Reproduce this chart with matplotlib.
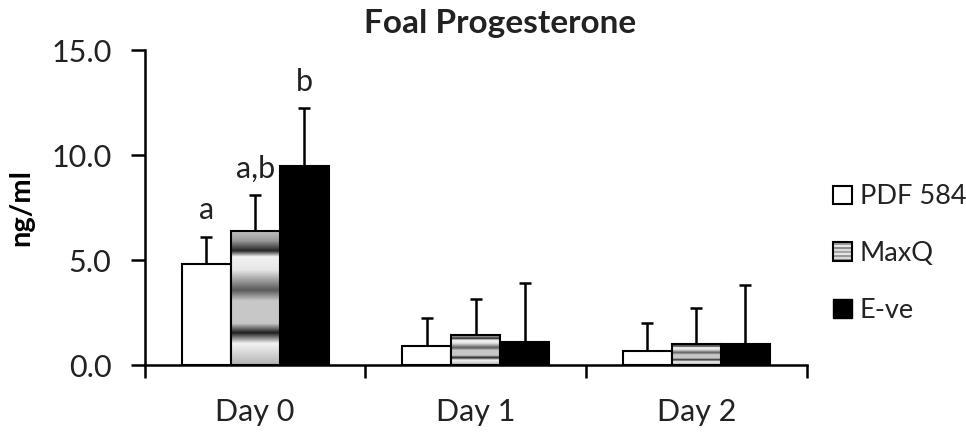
import matplotlib
matplotlib.use("Agg")
import matplotlib.pyplot as plt
import numpy as np
from matplotlib.patches import Rectangle, Patch
from matplotlib.legend_handler import HandlerBase

plt.rcParams['font.family'] = ['Lato', 'DejaVu Sans']

# data
days = ["Day 0", "Day 1", "Day 2"]
groups = ["PDF 584", "MaxQ", "E-ve"]
pdf584 = [4.81, 0.92, 0.69]
pdf584_err = [1.29, 1.32, 1.32]
maxq = [6.38, 1.43, 1.02]
maxq_err = [1.72, 1.71, 1.72]
eve = [9.48, 1.11, 0.98]
eve_err = [2.76, 2.78, 2.81]
letters_day0 = ["a", "a,b", "b"]

# gray profile of the MaxQ gradient fill (top -> bottom)
grad_pos = [0.0, 0.07, 0.145, 0.19, 0.29, 0.44, 0.52, 0.69, 0.76, 0.84, 1.0]
grad_val = [0.75, 0.6, 0.15, 0.95, 0.9, 0.35, 0.78, 0.78, 0.12, 0.95, 0.7]


class StripeHandler(HandlerBase):
    def create_artists(self, legend, orig_handle, xdescent, ydescent,
                       width, height, fontsize, trans):
        arts = []
        shades = [0.55, 0.85, 0.6, 0.9, 0.65, 0.85, 0.55, 0.9, 0.6]
        n = len(shades)
        for i in range(n):
            r = Rectangle((-xdescent, -ydescent + height * i / n), width, height / n,
                          facecolor=str(shades[i]), edgecolor='none', transform=trans)
            arts.append(r)
        arts.append(Rectangle((-xdescent, -ydescent), width, height, facecolor='none',
                              edgecolor='black', linewidth=1.5, transform=trans))
        return arts


fig = plt.figure(figsize=(9.66, 4.32), dpi=100)
ax = fig.add_axes([0.150, 0.155, 0.685, 0.729])

x = np.arange(len(days)) + 0.5
w = 0.222

ax.bar(x - w, pdf584, w, color='white', edgecolor='black', linewidth=1.5, zorder=2)
mq_bars = ax.bar(x, maxq, w, color='none', edgecolor='black', linewidth=1.5, zorder=3)
ax.bar(x + w, eve, w, color='black', edgecolor='black', linewidth=1.5, zorder=2)

# gradient inside each MaxQ bar
prof = np.interp(np.linspace(0, 1, 200), grad_pos, grad_val).reshape(-1, 1)
for b in mq_bars:
    im = ax.imshow(prof, cmap='gray', vmin=0, vmax=1, aspect='auto',
                   extent=[b.get_x(), b.get_x() + b.get_width(), 0, b.get_height()],
                   interpolation='bilinear', zorder=2)
    im.set_clip_path(b)

series = [(-w, pdf584, pdf584_err), (0, maxq, maxq_err), (w, eve, eve_err)]
for off, vals, errs in series:
    lower = np.zeros(len(vals))
    _, caps, _ = ax.errorbar(x + off, vals, yerr=[lower, errs], fmt='none', ecolor='black',
                             elinewidth=1.8, capsize=4, capthick=1.8, zorder=4)
    caps[0].set_visible(False)

for i, (off, vals, errs) in enumerate(series):
    ax.annotate(letters_day0[i], (x[0] + off, vals[0] + errs[0]), xytext=(0, 9),
                textcoords='offset points', ha='center', va='bottom', fontsize=22,
                color='#222222')

ax.set_xlim(0, 3)
ax.set_ylim(0, 15)
ax.set_yticks([0, 5, 10, 15])
ax.set_yticklabels(["0.0", "5.0", "10.0", "15.0"], fontsize=22, color='#222222')
ax.set_xticks(x)
ax.set_xticklabels(days, fontsize=22, color='#222222')
ax.set_xticks([0, 1, 2, 3], minor=True)
ax.tick_params(axis='x', which='major', length=0, pad=24)
ax.tick_params(axis='x', which='minor', length=9, width=1.8, direction='out')
ax.tick_params(axis='y', length=10, width=1.8, direction='out', pad=14)
for s in ['top', 'right']:
    ax.spines[s].set_visible(False)
for s in ['left', 'bottom']:
    ax.spines[s].set_linewidth(1.8)

ax.set_ylabel("ng/ml", fontsize=21, fontweight='bold', labelpad=12)
fig.text(0.518, 0.945, "Foal Progesterone", ha='center', va='center',
         fontsize=24, fontweight='bold', color='#222222')

handles = [Patch(facecolor='white', edgecolor='black', linewidth=1.5),
           Patch(facecolor='0.7', edgecolor='black'),
           Patch(facecolor='black', edgecolor='black')]
fig.legend(handles, groups, loc='upper left', bbox_to_anchor=(0.851, 0.598),
           frameon=False, fontsize=19.5, handlelength=0.7, handleheight=0.7,
           handletextpad=0.3, labelspacing=1.18, borderaxespad=0,
           handler_map={handles[1]: StripeHandler()},
           labelcolor='#222222')

fig.savefig("out.png", dpi=100)
